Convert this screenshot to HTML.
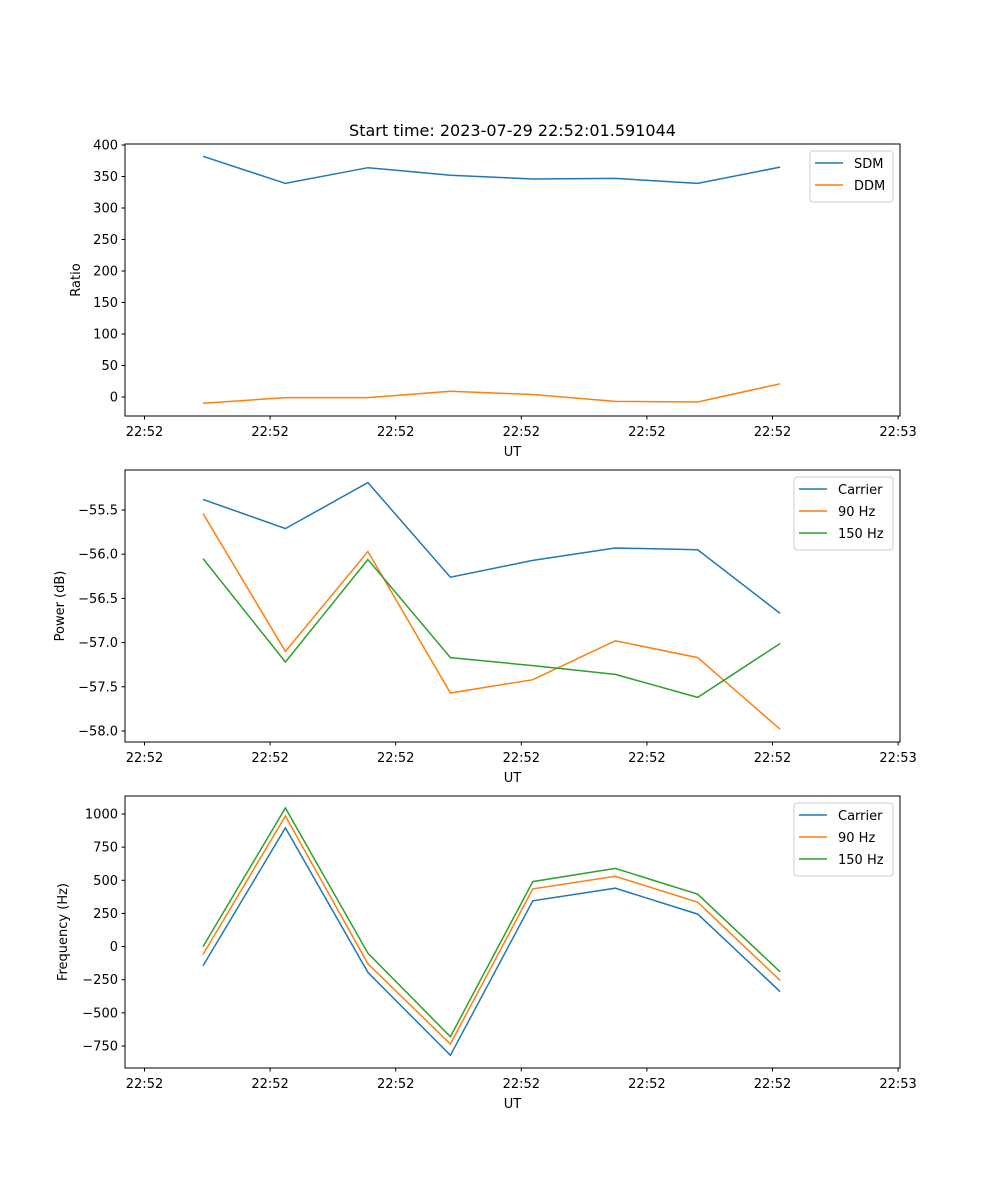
<!DOCTYPE html>
<html><head><meta charset="utf-8"><style>
body{margin:0;background:#fff}
svg{display:block;font-family:"DejaVu Sans","Liberation Sans",sans-serif}
</style></head><body>
<svg id="fig" width="1000" height="1200" viewBox="0 0 1000 1200">
<rect width="1000" height="1200" fill="#fff"/>
<text x="512.5" y="136" font-size="16" text-anchor="middle">Start time: 2023-07-29 22:52:01.591044</text>
</svg>
<script>
const xTickLabels = ["22:52","22:52","22:52","22:52","22:52","22:52","22:53"];
const xIndex = [0,1,2,3,4,5,6,7];
const sdm = [382,339,364,352,346,347,339,365];
const ddm = [-10,-1,-1,9,4,-7,-8,21];
const powCarrier = [-55.38,-55.71,-55.19,-56.26,-56.07,-55.93,-55.95,-56.67];
const pow90 = [-55.54,-57.10,-55.97,-57.57,-57.42,-56.98,-57.17,-57.98];
const pow150 = [-56.05,-57.22,-56.06,-57.17,-57.26,-57.36,-57.62,-57.01];
const freqCarrier = [-145,895,-195,-820,345,440,245,-340];
const freq90 = [-60,985,-130,-735,435,530,335,-255];
const freq150 = [0,1045,-50,-680,490,590,395,-190];
const ticks1 = [0,50,100,150,200,250,300,350,400];
const ticks2 = [-58.0,-57.5,-57.0,-56.5,-56.0,-55.5];
const ticks3 = [-750,-500,-250,0,250,500,750,1000];

const NS="http://www.w3.org/2000/svg";
const svg=document.getElementById('fig');
function mk(t,a,p){const e=document.createElementNS(NS,t);for(const k in a)e.setAttribute(k,a[k]);(p||svg).appendChild(e);return e;}
const L=125,R=900;
function xs(i){return 203+i*82.45;}
function xt(k){return 144.5+k*125.6;}
const blue="#1f77b4",orange="#ff7f0e",green="#2ca02c";
function panel(name,top,bot,yv,yp,ticks,fmt,ylabel,series,legend){
  const H=bot-top;
  function ys(v){return yp[0]+(v-yv[0])*(yp[1]-yp[0])/(yv[1]-yv[0]);}
  const g=mk('g',{});
  
  
  series.forEach(s=>{
    const pts=s.data.map((v,i)=>xs(xIndex[i]).toFixed(1)+','+ys(v).toFixed(1)).join(' ');
    const pl=mk('polyline',{points:pts,fill:'none',stroke:s.c,'stroke-width':1.5},g);
    
    
  });
  mk('rect',{x:L,y:top,width:R-L,height:H,fill:'none',stroke:'#000','stroke-width':1},g);
  ticks.forEach(v=>{
    const y=ys(v);
    mk('line',{x1:L-3.5,x2:L,y1:y,y2:y,stroke:'#000'},g);
    const t=mk('text',{x:L-7,y:y+4.5,'font-size':13,'text-anchor':'end'},g);
    t.textContent=fmt(v);
    
    
  });
  xTickLabels.forEach((lab,k)=>{
    const x=xt(k);
    mk('line',{x1:x,x2:x,y1:bot,y2:bot+3.5,stroke:'#000'},g);
    const t=mk('text',{x:x,y:bot+20,'font-size':13,'text-anchor':'middle'},g);
    t.textContent=lab;
    
    
  });
  const xl=mk('text',{x:512.5,y:bot+40,'font-size':13,'text-anchor':'middle'},g);
  xl.textContent='UT';
  
  
  const lx=legend.x, yc=(top+bot)/2;
  const ylx=legend.ylx;
  const yl=mk('text',{x:ylx,y:yc,'font-size':13,'text-anchor':'middle',transform:`rotate(-90 ${ylx} ${yc})`},g);
  yl.textContent=ylabel;
  
  
  const lh=7+series.length*22;
  const lg=mk('g',{},g);
  
  
  mk('rect',{x:lx,y:top+7,width:893-lx,height:lh,rx:3,fill:'#fff',stroke:'#ccc','fill-opacity':0.8},lg);
  series.forEach((s,i)=>{
    const y=top+7+12+i*22;
    mk('line',{x1:lx+5,x2:lx+33,y1:y,y2:y,stroke:s.c,'stroke-width':1.5},lg);
    const t=mk('text',{x:lx+44,y:y+5,'font-size':13},lg);
    t.textContent=s.label;
    
    
  });
}
panel('ratio-panel',144,416,[0,400],[397,145],ticks1,v=>String(v),'Ratio',
  [{data:sdm,c:blue,n:'sdm-line',label:'SDM'},{data:ddm,c:orange,n:'ddm-line',label:'DDM'}],{x:810,ylx:80});
panel('power-panel',470,742,[-55.5,-58.0],[510,731],ticks2,v=>'\u2212'+Math.abs(v).toFixed(1),'Power (dB)',
  [{data:powCarrier,c:blue,n:'carrier-power-line',label:'Carrier'},{data:pow90,c:orange,n:'90hz-power-line',label:'90 Hz'},{data:pow150,c:green,n:'150hz-power-line',label:'150 Hz'}],{x:794,ylx:64});
panel('frequency-panel',796,1068,[1000,-750],[814,1046],ticks3,v=>(v<0?'\u2212':'')+Math.abs(v),'Frequency (Hz)',
  [{data:freqCarrier,c:blue,n:'carrier-freq-line',label:'Carrier'},{data:freq90,c:orange,n:'90hz-freq-line',label:'90 Hz'},{data:freq150,c:green,n:'150hz-freq-line',label:'150 Hz'}],{x:794,ylx:67});
</script>
</body></html>
